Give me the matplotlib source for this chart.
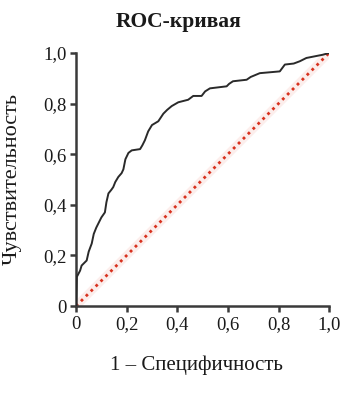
import matplotlib
matplotlib.use('Agg')
import matplotlib.pyplot as plt

# ROC curve points
fpr = [0.0, 0.003, 0.016, 0.022, 0.042, 0.05, 0.062, 0.07, 0.08, 0.09, 0.10,
       0.114, 0.12, 0.128, 0.14, 0.147, 0.155, 0.167, 0.18, 0.187, 0.195, 0.207,
       0.22, 0.253, 0.262, 0.272, 0.285, 0.30, 0.325, 0.335, 0.345, 0.36, 0.378,
       0.404, 0.443, 0.463, 0.496, 0.51, 0.529, 0.595, 0.605, 0.62, 0.674, 0.69,
       0.726, 0.805, 0.825, 0.86, 0.884, 0.91, 0.976, 1.0]
tpr = [0.0, 0.115, 0.14, 0.16, 0.18, 0.215, 0.247, 0.285, 0.31, 0.33, 0.35,
       0.37, 0.41, 0.445, 0.46, 0.47, 0.49, 0.51, 0.525, 0.54, 0.58, 0.605,
       0.615, 0.62, 0.635, 0.655, 0.69, 0.715, 0.73, 0.745, 0.76, 0.775, 0.79,
       0.805, 0.815, 0.83, 0.83, 0.848, 0.86, 0.868, 0.878, 0.888, 0.894, 0.905,
       0.92, 0.927, 0.954, 0.958, 0.967, 0.98, 0.993, 1.0]
diag = [0.0, 1.0]
ticks = [0, 0.2, 0.4, 0.6, 0.8, 1.0]
tick_labels = ['0', '0,2', '0,4', '0,6', '0,8', '1,0']

plt.rcParams['font.family'] = ['Liberation Serif', 'DejaVu Serif']

fig = plt.figure(figsize=(3.57, 4.07), dpi=100)
ax = fig.add_axes([0.213, 0.248, 0.709, 0.622])

ax.plot(diag, diag, color='#f8d6d0', lw=6, alpha=0.4, zorder=1)
ax.plot(diag, diag, color='#d8321f', lw=2, ls=(0, (1, 1.5)), zorder=2)
ax.plot(fpr, tpr, color='#2a2a2a', lw=1.4, zorder=3)

ax.set_xlim(0, 1)
ax.set_ylim(0, 1)
ax.set_xticks(ticks)
ax.set_xticklabels(tick_labels)
ax.set_yticks(ticks)
ax.set_yticklabels(tick_labels)

for s in ['top', 'right']:
    ax.spines[s].set_visible(False)
for s in ['left', 'bottom']:
    ax.spines[s].set_linewidth(1.8)
    ax.spines[s].set_color('#3a3a3a')
ax.tick_params(length=4, width=1.8, color='#3a3a3a', labelsize=13.5,
               labelcolor='#1a1a1a', pad=3)

fig.text(0.5, 0.946, 'ROC-кривая', fontsize=15.5, fontweight='bold',
         ha='center', va='center', color='#1a1a1a')
ax.set_xlabel('1 – Специфичность', fontsize=15, color='#1a1a1a')
ax.xaxis.set_label_coords(0.476, -0.195)
ax.set_ylabel('Чувствительность', fontsize=16, color='#1a1a1a')
ax.yaxis.set_label_coords(-0.215, 0.5)

fig.savefig('out.png', dpi=100)
